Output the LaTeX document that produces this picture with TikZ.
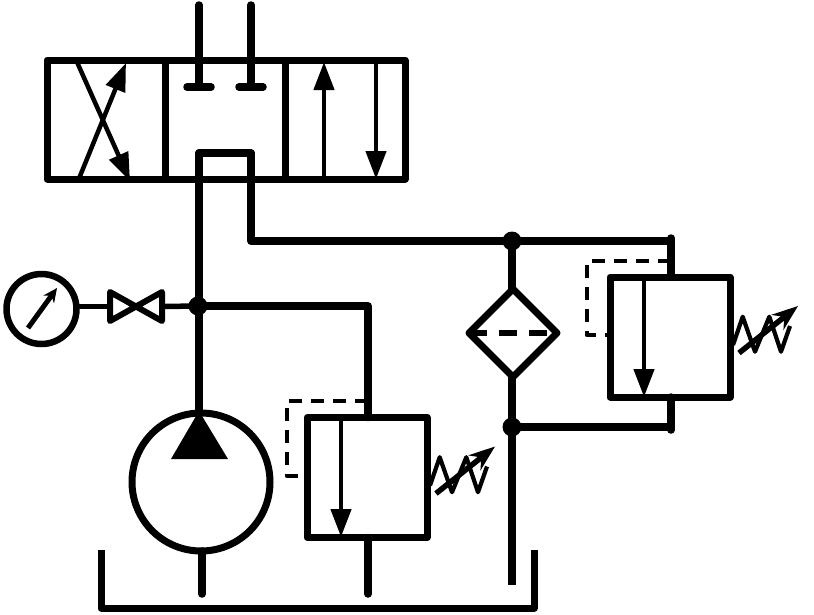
\documentclass[tikz,border=0pt]{standalone}
\usetikzlibrary{arrows.meta,positioning,shapes.geometric}

\begin{document}
\begin{tikzpicture}[
    x = 1pt, y = -1pt, % picture is laid out in reference pixels
    line join = round,
    pipe/.style = {line width = 7.5pt, line cap = round},
    flow/.style = {line width = 4.5pt, -{Triangle[length=28pt,width=20pt]}},
    pilot/.style = {line width = 4.5pt, dash pattern = on 13pt off 9pt},
    spring/.style = {line width = 4.2pt},
    cell/.style = {draw, line width = 7pt, minimum height = 119pt, outer sep = 0pt, inner sep = 0pt},
    relief/.style = {draw, fill = white, line width = 7pt, minimum size = 120pt, outer sep = 0pt, inner sep = 0pt},
    junction/.style = {circle, fill, minimum size = 19pt, inner sep = 0pt, outer sep = 0pt}
    ]
    \useasboundingbox (0,0) rectangle (814,614);

    % directional valve
    \node[cell, minimum width = 118pt] (cellCross) at (106,119.5) {};
    \node[cell, minimum width = 120pt] (cellBlock) [right=0pt of cellCross] {};
    \node[cell, minimum width = 120pt] (cellStraight) [right=0pt of cellBlock] {};

    % components
    \node[junction] (joinPump) at (198,306) {};
    \node[junction] (joinReturn) at (512,241) {};
    \node[junction] (joinFilter) at (512,427) {};
    \node[relief] (reliefLow) at (367,477.5) {};
    \node[relief] (reliefHigh) at (670,337) {};
    \node[diamond, draw, line width = 7pt, minimum width = 88pt, minimum height = 88pt,
        inner sep = 0pt, outer sep = 0pt] (filter) at (513,333) {};
    \node[circle, draw, line width = 6.5pt, minimum size = 70pt, inner sep = 0pt, outer sep = 0pt] (gauge) at (41.5,309) {};
    \node[circle, draw, line width = 7pt, minimum size = 138pt, inner sep = 0pt, outer sep = 0pt] (pump) at (201,482) {};
    \node[minimum width = 52pt, minimum height = 29pt, inner sep = 0pt, outer sep = 0pt] (shutoff) at (136,306.5) {};

    % free ends
    \coordinate (portP) at (199,5);
    \coordinate (portT) at (251,5);
    \coordinate (stopP) at (199,87);
    \coordinate (stopT) at (251,87);
    \coordinate (bridgeP) at (199,153);
    \coordinate (bridgeT) at (251,153);
    \coordinate (returnEnd) at (671,238);
    \coordinate (filterEnd) at (671,430);
    \coordinate (tankLeft) at (101,550);
    \coordinate (tankRight) at (534,550);
    \coordinate (drainPump) at (202,594);
    \coordinate (drainLow) at (368,594);
    \coordinate (pipeEnd) at (512,585);

    % valve ports and bridge
    \draw[pipe] (portP) -- (stopP);
    \draw[pipe] (portT) -- (stopT);
    \draw[pipe] (187,87) -- (211,87);
    \draw[pipe] (239,87) -- (263,87);
    \draw[pipe] (bridgeP) -- (bridgeT);
    \draw[pipe] (bridgeP) -- (pump.north -| bridgeP);
    \draw[pipe] (bridgeT) |- (joinReturn.center);

    % valve arrows
    \draw[flow] (77,62) -- (130,181);
    \draw[flow] (78,181) -- (126,63);
    \draw[flow] (324,179) -- (324,62);
    \draw[flow] (376,60) -- (376,179);

    % pressure line
    \draw[pipe] (joinPump.center) -| (reliefLow.north -| 368,0);
    \draw[line width = 5.5pt] (shutoff.west) -- (gauge.east |- shutoff.west);
    \draw[line width = 5.5pt] (shutoff.east) -- (joinPump.center);
    \draw[line width = 6pt] (shutoff.north west) -- (shutoff.south east) -- (shutoff.north east) -- (shutoff.south west) -- cycle;
    \draw[line width = 5pt, -{Stealth[length=14pt,width=13pt]}] (28,328) -- (57,288);

    % pump
    \fill (199,411) -- (228,459) -- (171,459) -- cycle;
    \draw[pipe] (pump.south -| drainPump) -- (drainPump);

    % return line and filter
    \draw[pipe] (joinReturn.center) -- (returnEnd |- joinReturn.center);
    \draw[line width = 7.5pt] (joinReturn.center) -- (filter.north -| joinReturn);
    \draw[line width = 7.5pt] (filter.south -| joinFilter) -- (pipeEnd);
    \draw[line width = 5.5pt, dash pattern = on 18pt off 12pt] (filter.west) -- (filter.east);
    \draw[pipe] (joinFilter.center) -- (filterEnd |- joinFilter.center);
    \draw[pipe] (returnEnd) -- (returnEnd |- reliefHigh.north);
    \draw[pipe] (filterEnd) -- (filterEnd |- reliefHigh.south);
    \draw[pipe] (reliefLow.south -| drainLow) -- (drainLow);

    % relief valves
    \draw[pilot] (368,401) -- (287,401) -- (287,476) -- (reliefLow.west |- 0,476);
    \draw[pilot] (671,261) -- (587,261) -- (587,335) -- (reliefHigh.west |- 0,335);
    \draw[flow] (341,418) -- (341,537);
    \draw[flow] (644,277) -- (644,397);
    \foreach \rv in {reliefLow,reliefHigh} {
        \draw[spring] ([shift={(3,8)}]\rv.east) -- ([shift={(12.7,-20.3)}]\rv.east)
            -- ([shift={(25,14.7)}]\rv.east) -- ([shift={(39.3,-20.3)}]\rv.east)
            -- ([shift={(51,14.7)}]\rv.east) -- ([shift={(60,-11)}]\rv.east);
        \draw[line width = 5.5pt, -{Stealth[length=26pt,width=19pt]}]
            ([shift={(9,16)}]\rv.east) -- ([shift={(68,-31)}]\rv.east);
    }

    % tank
    \draw[line width = 7pt] (tankLeft) -- (tankLeft |- 0,608) -- (tankRight |- 0,608) -- (tankRight);
\end{tikzpicture}
\end{document}
